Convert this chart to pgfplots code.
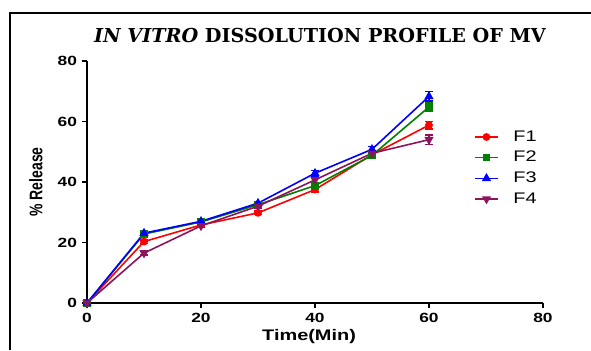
\documentclass[border=0pt]{standalone}
\usepackage{pgfplots}
\pgfplotsset{compat=1.18}
\usepackage{graphicx}
\usepackage{fontspec}
\setmainfont{Liberation Sans}
\newfontfamily\titlefont{DejaVu Serif}
\definecolor{cF1}{RGB}{255,0,0}
\definecolor{cF2}{RGB}{0,128,0}
\definecolor{cF3}{RGB}{0,0,255}
\definecolor{cF4}{RGB}{140,20,90}
\newcommand{\wide}[1]{\scalebox{1.3}[1]{#1}}
\newcommand{\thick}[1]{\scalebox{1}[1.3]{#1}}
\pgfplotstableread{
t  y    e
0  0    0
10 20.3 0.6
20 25.8 0.6
30 29.8 0.6
40 37.5 0.8
50 49.0 0.8
60 58.8 1.2
}\Fone
\pgfplotstableread{
t  y    e
0  0    0
10 22.8 0.6
20 26.8 0.6
30 32.5 0.6
40 38.8 0.8
50 48.8 0.8
60 64.8 1.5
}\Ftwo
\pgfplotstableread{
t  y    e
0  0    0
10 23.1 0.6
20 27.0 0.6
30 33.0 0.6
40 42.9 0.9
50 50.8 0.9
60 68.3 1.6
}\Fthree
\pgfplotstableread{
t  y    e
0  0    0
10 16.5 0.6
20 25.5 0.6
30 32.0 0.6
40 40.7 0.8
50 49.5 0.8
60 54.0 1.6
}\Ffour
\begin{document}
\begin{tikzpicture}
\useasboundingbox (0pt,0pt) rectangle (443.25pt,262.5pt);
\draw[line width=1.5pt] (7.5pt,0pt) -- (7.5pt,252.75pt) -- (443.25pt,252.75pt);
\node[font=\titlefont\bfseries\fontsize{14.4}{15}\selectfont] at (240pt,236pt) {\textit{IN VITRO} DISSOLUTION PROFILE OF MV};
\begin{axis}[
  at={(65.25pt,35.25pt)}, anchor=south west,
  scale only axis, width=342pt, height=181.5pt,
  xmin=0, xmax=80, ymin=0, ymax=80,
  xtick={0,20,...,80}, ytick={0,20,...,80},
  axis x line*=bottom, axis y line*=left,
  axis line style={line width=1.5pt,-},
  tick style={line width=1.2pt,black},
  tick align=outside, major tick length=4pt,
  ticklabel style={font=\bfseries\fontsize{10}{12}\selectfont},
  /pgf/number format/assume math mode=true,
  xticklabel={\wide{\pgfmathprintnumber{\tick}}},
  yticklabel={\wide{\pgfmathprintnumber{\tick}}},
  xlabel={\wide{Time(Min)}}, ylabel={\thick{\% Release}},
  xlabel style={font=\bfseries\fontsize{11.5}{13}\selectfont,
     at={(axis description cs:0.487,-0.138)}, anchor=center},
  ylabel style={font=\bfseries\fontsize{10.5}{13}\selectfont,
     at={(axis description cs:-0.112,0.5)}, anchor=center},
  legend style={at={(0.84,0.735)}, anchor=north west, draw=none, fill=none,
     font=\fontsize{11.5}{13}\selectfont, row sep=2pt, column sep=9pt},
  legend cell align=left,
  every axis plot/.append style={line width=1.2pt, mark size=2.3pt,
     error bars/y dir=both, error bars/y explicit,
     error bars/error bar style={line width=1.2pt},
     error bars/error mark options={rotate=90, mark size=3pt, line width=1.2pt}},
  clip=false,
]
\addplot[color=cF1, mark=*] table[x=t,y=y,y error=e]{\Fone};
\addlegendentry{\wide{F1}}
\addplot[color=cF2, mark=square*, mark size=2.1pt] table[x=t,y=y,y error=e]{\Ftwo};
\addlegendentry{\wide{F2}}
\addplot[color=cF3, mark=triangle*, mark size=2.8pt] table[x=t,y=y,y error=e]{\Fthree};
\addlegendentry{\wide{F3}}
\addplot[color=cF4, mark=triangle*, mark options={rotate=180}, mark size=2.8pt] table[x=t,y=y,y error=e]{\Ffour};
\addlegendentry{\wide{F4}}
\end{axis}
\end{tikzpicture}
\end{document}
